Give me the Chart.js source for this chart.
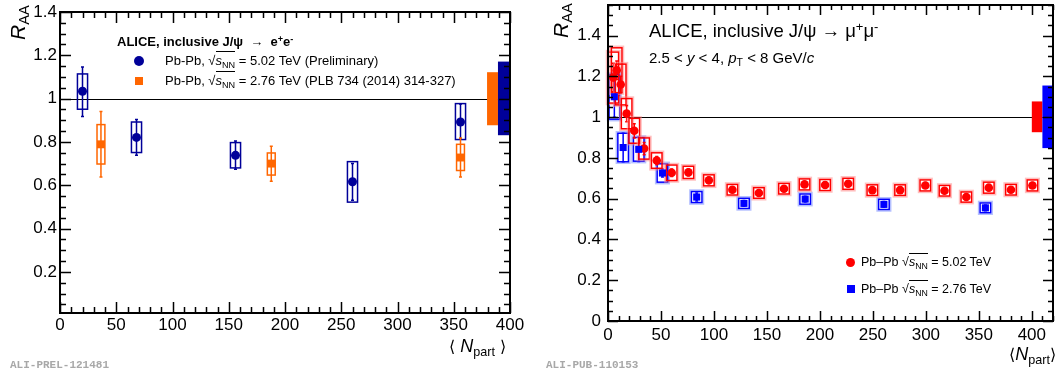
<!DOCTYPE html>
<html lang="en">
<head>
  <meta charset="UTF-8" />
  <title>J/psi R_AA vs Npart</title>
  <script src="https://cdn.jsdelivr.net/npm/chart.js"></script>
  <style>
    body { margin: 0; background: #fff; width: 1058px; height: 376px; overflow: hidden; position: relative;
           font-family: "Liberation Sans", Arial, sans-serif; }
    .panel { position: absolute; top: 0; height: 376px; }
    .t { position: absolute; white-space: nowrap; color: #000; line-height: 1; }
    .t i { font-style: italic; }
    .t sub { font-size: 70%; vertical-align: -0.3em; line-height: 0; }
    .t sup { font-size: 70%; vertical-align: 0.45em; line-height: 0; }
    .ov { border-top: 1px solid #000; padding-top: 1px; }
    .rot { transform-origin: left top; transform: rotate(-90deg); }
    .ali { font-family: "Liberation Mono", monospace; font-weight: bold; color: #a8a8a8; font-size: 11px; }
    .br { font-family: "DejaVu Sans", sans-serif; font-size: 16px; }
    .mk { position: absolute; }
  </style>
</head>
<body>
  <div class="panel" style="left:0;width:530px;"><canvas id="leftChart"></canvas></div>
  <div class="panel" style="left:530px;width:528px;"><canvas id="rightChart"></canvas></div>

  <!-- left panel texts -->
  <div class="t rot" style="left:7px;top:40px;font-size:21px;"><i>R</i><sub style="font-style:normal">AA</sub></div>
  <div class="t" style="left:449px;top:337px;font-size:18px;"><span class="br">⟨</span> <i>N</i><sub>part</sub> <span class="br">⟩</span></div>
  <div class="t ali" style="left:10px;top:360px;">ALI-PREL-121481</div>
  <div class="t" style="left:117px;top:35px;font-size:13px;font-weight:bold;">ALICE, inclusive J/ψ &nbsp;→&nbsp; e<sup>+</sup>e<sup>-</sup></div>
  <div class="mk" style="left:134px;top:56px;width:10px;height:10px;border-radius:50%;background:#000099;"></div>
  <div class="t" style="left:165px;top:54px;font-size:13px;">Pb-Pb, √<span class="ov"><i>s</i><sub>NN</sub></span> = 5.02 TeV (Preliminary)</div>
  <div class="mk" style="left:135px;top:77px;width:8px;height:8px;background:#ff6600;"></div>
  <div class="t" style="left:165px;top:74px;font-size:13px;">Pb-Pb, √<span class="ov"><i>s</i><sub>NN</sub></span> = 2.76 TeV (PLB 734 (2014) 314-327)</div>

  <!-- right panel texts -->
  <div class="t rot" style="left:550px;top:38px;font-size:21px;"><i>R</i><sub style="font-style:normal">AA</sub></div>
  <div class="t" style="left:1009px;top:345px;font-size:18px;"><span class="br">⟨</span><i>N</i><sub>part</sub><span class="br">⟩</span></div>
  <div class="t ali" style="left:546px;top:360px;">ALI-PUB-110153</div>
  <div class="t" style="left:649px;top:22px;font-size:18.5px;">ALICE, inclusive J/ψ → μ<sup>+</sup>μ<sup>-</sup></div>
  <div class="t" style="left:649px;top:50px;font-size:15px;">2.5 &lt; <i>y</i> &lt; 4, <i>p</i><sub>T</sub> &lt; 8 GeV/<i>c</i></div>
  <div class="mk" style="left:846px;top:258px;width:9px;height:9px;border-radius:50%;background:#ff0000;"></div>
  <div class="t" style="left:861px;top:256px;font-size:12.5px;">Pb–Pb √<span class="ov"><i>s</i><sub>NN</sub></span> = 5.02 TeV</div>
  <div class="mk" style="left:847px;top:285px;width:8px;height:8px;background:#0000ff;"></div>
  <div class="t" style="left:861px;top:283px;font-size:12.5px;">Pb–Pb √<span class="ov"><i>s</i><sub>NN</sub></span> = 2.76 TeV</div>

  <script>
    // ---- left panel data (e+e-, mid-rapidity) ----
    const prelimNpart  = [20, 68, 156, 260, 356];
    const prelimRaa    = [1.034, 0.821, 0.738, 0.616, 0.892];
    const prelimStatLo = [0.918, 0.738, 0.674, 0.531, 0.812];
    const prelimStatHi = [1.146, 0.904, 0.804, 0.700, 0.975];
    const prelimSysLo  = [0.951, 0.751, 0.680, 0.522, 0.811];
    const prelimSysHi  = [1.114, 0.892, 0.797, 0.709, 0.977];

    const pubNpart  = [36.4, 187.8, 356];
    const pubRaa    = [0.789, 0.700, 0.728];
    const pubStatLo = [0.638, 0.618, 0.638];
    const pubStatHi = [0.941, 0.780, 0.818];
    const pubSysLo  = [0.698, 0.647, 0.668];
    const pubSysHi  = [0.880, 0.749, 0.789];

    const leftGlobalX0 = [379.6, 389.3];
    const leftGlobalX1 = [389.3, 400];
    const leftGlobalLo = [0.877, 0.831];
    const leftGlobalHi = [1.122, 1.171];

    const leftXTicks = [0, 50, 100, 150, 200, 250, 300, 350, 400];
    const leftYTicks = [0.2, 0.4, 0.6, 0.8, 1, 1.2, 1.4];

    // ---- right panel data (mu+mu-, forward rapidity) ----
    const redNpart = [5, 8.2, 12, 17.6, 24.8, 34.1, 46, 60.1, 75.9, 95.2, 117.4, 142.4,
                      166.1, 185.5, 204.9, 226.7, 249.5, 275.7, 299.5, 317.6, 338.2, 359.4, 380.3, 400.6];
    const redRaa   = [1.194, 1.230, 1.160, 1.017, 0.933, 0.846, 0.787, 0.727, 0.729, 0.690, 0.644, 0.628,
                      0.649, 0.670, 0.667, 0.673, 0.642, 0.642, 0.665, 0.639, 0.608, 0.654, 0.644, 0.665];
    const redStat  = [0.07, 0.045, 0.04, 0.04, 0.035, 0.03, 0.02, 0.018, 0.016, 0.016, 0.014, 0.014,
                      0.014, 0.014, 0.014, 0.014, 0.014, 0.014, 0.014, 0.014, 0.014, 0.014, 0.014, 0.014];
    const redSys   = [0.125, 0.11, 0.10, 0.074, 0.061, 0.052, 0.038, 0.038, 0.030, 0.027, 0.026, 0.026,
                      0.026, 0.027, 0.027, 0.027, 0.026, 0.026, 0.027, 0.026, 0.025, 0.027, 0.026, 0.027];

    const blueNpart = [6, 14.3, 29, 51.4, 83.7, 128.3, 186.1, 260.4, 356.2];
    const blueRaa   = [1.10, 0.851, 0.842, 0.726, 0.608, 0.577, 0.598, 0.572, 0.555];
    const blueStat  = [0.10, 0.07, 0.06, 0.02, 0.02, 0.014, 0.014, 0.014, 0.014];
    const blueSys   = [0.11, 0.07, 0.058, 0.045, 0.027, 0.025, 0.025, 0.025, 0.024];

    const rightGlobalX0 = [400, 410];
    const rightGlobalX1 = [410, 420];
    const rightGlobalLo = [0.926, 0.848];
    const rightGlobalHi = [1.077, 1.155];

    const rightXTicks = [0, 50, 100, 150, 200, 250, 300, 350, 400];
    const rightYTicks = [0, 0.2, 0.4, 0.6, 0.8, 1, 1.2, 1.4];

    const FONT = { family: 'Liberation Sans', size: 17 };

    // boxes, error bars, unity line, global boxes, and ROOT style frame ticks
    const physPlugin = {
      id: 'phys',
      beforeDatasetsDraw(chart) {
        const { ctx, chartArea: a, scales: { x, y } } = chart;
        const o = chart.options.plugins.phys;
        ctx.save();
        // line at 1
        const y1 = Math.round(y.getPixelForValue(1)) + 0.5;
        ctx.strokeStyle = '#000';
        ctx.lineWidth = 1.2;
        ctx.beginPath(); ctx.moveTo(a.left, y1); ctx.lineTo(a.right, y1); ctx.stroke();
        // global uncertainty boxes
        o.globals.x0.forEach((gx, i) => {
          const px0 = x.getPixelForValue(gx), px1 = x.getPixelForValue(o.globals.x1[i]);
          const py0 = y.getPixelForValue(o.globals.hi[i]), py1 = y.getPixelForValue(o.globals.lo[i]);
          ctx.fillStyle = o.globals.colors[i];
          ctx.fillRect(px0, py0, px1 - px0, py1 - py0);
        });
        // per point boxes and stat bars
        chart.data.datasets.forEach(ds => {
          if (!ds.sysLo) return;
          ds.data.forEach((p, i) => {
            const px = x.getPixelForValue(p.x);
            const bx0 = x.getPixelForValue(p.x - ds.boxHalf), bx1 = x.getPixelForValue(p.x + ds.boxHalf);
            const by0 = y.getPixelForValue(ds.sysHi[i]), by1 = y.getPixelForValue(ds.sysLo[i]);
            if (ds.halo) {
              ctx.strokeStyle = ds.halo;
              ctx.lineWidth = 1.5;
              ctx.strokeRect(bx0 - 1.5, by0 - 1.5, bx1 - bx0 + 3, by1 - by0 + 3);
            }
            ctx.strokeStyle = ds.borderColor;
            ctx.lineWidth = 1.5;
            ctx.strokeRect(bx0, by0, bx1 - bx0, by1 - by0);
            const sy0 = y.getPixelForValue(ds.statHi[i]), sy1 = y.getPixelForValue(ds.statLo[i]);
            ctx.lineWidth = 1.5;
            ctx.beginPath();
            ctx.moveTo(px, sy0); ctx.lineTo(px, sy1);
            ctx.moveTo(px - 1.5, sy0); ctx.lineTo(px + 1.5, sy0);
            ctx.moveTo(px - 1.5, sy1); ctx.lineTo(px + 1.5, sy1);
            ctx.stroke();
          });
        });
        ctx.restore();
      },
      afterDraw(chart) {
        const { ctx, chartArea: a, scales: { x, y } } = chart;
        const t = chart.options.plugins.phys.ticks;
        ctx.save();
        ctx.strokeStyle = '#000';
        ctx.lineWidth = 1.5;
        const isMajor = (v, step) => Math.abs(v / step - Math.round(v / step)) < 1e-6;
        ctx.beginPath();
        for (let k = Math.ceil(x.min / t.xMinor - 1e-9); k * t.xMinor <= x.max + 1e-9; k++) {
          const v = k * t.xMinor, px = Math.round(x.getPixelForValue(v)) + 0.5;
          const len = isMajor(v, t.xMajor) ? t.majLen : t.minLen;
          ctx.moveTo(px, a.bottom); ctx.lineTo(px, a.bottom - len);
          ctx.moveTo(px, a.top); ctx.lineTo(px, a.top + len);
        }
        for (let k = Math.ceil(y.min / t.yMinor - 1e-9); k * t.yMinor <= y.max + 1e-9; k++) {
          const v = k * t.yMinor, py = Math.round(y.getPixelForValue(v)) + 0.5;
          const len = isMajor(v, t.yMajor) ? t.majLen : t.minLen;
          ctx.moveTo(a.left, py); ctx.lineTo(a.left + len, py);
          ctx.moveTo(a.right, py); ctx.lineTo(a.right - len, py);
        }
        ctx.stroke();
        ctx.lineWidth = 2;
        ctx.strokeRect(a.left, a.top, a.right - a.left, a.bottom - a.top);
        ctx.restore();
      }
    };

    function fmt(v) { return String(Math.round(v * 10) / 10); }

    // fixed axis sizes so the plot frame lands where the reference has it
    function noPad(ax) { ax.paddingTop = 0; ax.paddingBottom = 0; ax.paddingLeft = 0; ax.paddingRight = 0; }

    function scalesFor(xMax, yMin, yMax, xTicks, yTicks, yWidth, xHeight, yPad, xPad) {
      return {
        x: {
          type: 'linear', min: 0, max: xMax,
          afterBuildTicks: ax => { ax.ticks = xTicks.map(v => ({ value: v })); },
          afterFit: ax => { ax.height = xHeight; noPad(ax); },
          grid: { display: false, drawTicks: false }, border: { display: false },
          ticks: { autoSkip: false, maxRotation: 0, padding: xPad, color: '#000', font: FONT, callback: v => String(v) }
        },
        y: {
          type: 'linear', min: yMin, max: yMax,
          afterBuildTicks: ax => { ax.ticks = yTicks.map(v => ({ value: v })); },
          afterFit: ax => { ax.width = yWidth; noPad(ax); },
          grid: { display: false, drawTicks: false }, border: { display: false },
          ticks: { autoSkip: false, padding: yPad, color: '#000', font: FONT, callback: v => fmt(v) }
        }
      };
    }

    const toXY = (xs, ys) => xs.map((v, i) => ({ x: v, y: ys[i] }));

    new Chart(document.getElementById('leftChart'), {
      type: 'scatter',
      data: {
        datasets: [
          {
            label: 'Pb-Pb 5.02 TeV (Preliminary)',
            data: toXY(prelimNpart, prelimRaa),
            pointStyle: 'circle', pointRadius: 4.5, borderWidth: 0,
            backgroundColor: '#000099', borderColor: '#000099',
            statLo: prelimStatLo, statHi: prelimStatHi, sysLo: prelimSysLo, sysHi: prelimSysHi, boxHalf: 4.5
          },
          {
            label: 'Pb-Pb 2.76 TeV (PLB 734 (2014) 314-327)',
            data: toXY(pubNpart, pubRaa),
            pointStyle: 'rect', pointRadius: 5.6, borderWidth: 0,
            backgroundColor: '#ff6600', borderColor: '#ff6600',
            statLo: pubStatLo, statHi: pubStatHi, sysLo: pubSysLo, sysHi: pubSysHi, boxHalf: 3.5
          }
        ]
      },
      options: {
        responsive: true, maintainAspectRatio: false, animation: false,
        layout: { padding: { left: 0, top: 12, right: 20, bottom: 0 } },
        plugins: {
          legend: { display: false }, tooltip: { enabled: false },
          phys: {
            globals: { x0: leftGlobalX0, x1: leftGlobalX1, lo: leftGlobalLo, hi: leftGlobalHi, colors: ['#ff6600', '#000099'] },
            ticks: { xMajor: 50, xMinor: 10, yMajor: 0.2, yMinor: 0.05, majLen: 11, minLen: 6 }
          }
        },
        scales: scalesFor(400, 0.01, 1.4, leftXTicks, leftYTicks, 60, 63, 3, 2)
      },
      plugins: [physPlugin]
    });

    new Chart(document.getElementById('rightChart'), {
      type: 'scatter',
      data: {
        datasets: [
          {
            label: 'Pb-Pb 2.76 TeV',
            data: toXY(blueNpart, blueRaa),
            pointStyle: 'rect', pointRadius: 5, borderWidth: 0,
            backgroundColor: '#0000ff', borderColor: '#0000ff', halo: 'rgba(120,140,255,0.55)',
            statLo: blueRaa.map((v, i) => v - blueStat[i]), statHi: blueRaa.map((v, i) => v + blueStat[i]),
            sysLo: blueRaa.map((v, i) => v - blueSys[i]), sysHi: blueRaa.map((v, i) => v + blueSys[i]), boxHalf: 5
          },
          {
            label: 'Pb-Pb 5.02 TeV',
            data: toXY(redNpart, redRaa),
            pointStyle: 'circle', pointRadius: 4.3, borderWidth: 0,
            backgroundColor: '#ff0000', borderColor: '#ff0000', halo: 'rgba(255,140,140,0.55)',
            statLo: redRaa.map((v, i) => v - redStat[i]), statHi: redRaa.map((v, i) => v + redStat[i]),
            sysLo: redRaa.map((v, i) => v - redSys[i]), sysHi: redRaa.map((v, i) => v + redSys[i]), boxHalf: 5
          }
        ]
      },
      options: {
        responsive: true, maintainAspectRatio: false, animation: false,
        layout: { padding: { left: 0, top: 4, right: 1, bottom: 0 } },
        plugins: {
          legend: { display: false }, tooltip: { enabled: false },
          phys: {
            globals: { x0: rightGlobalX0, x1: rightGlobalX1, lo: rightGlobalLo, hi: rightGlobalHi, colors: ['#ff0000', '#0000ff'] },
            ticks: { xMajor: 50, xMinor: 10, yMajor: 0.2, yMinor: 0.05, majLen: 10, minLen: 5 }
          }
        },
        scales: scalesFor(420, 0, 1.55, rightXTicks, rightYTicks, 78, 55, 7, 4)
      },
      plugins: [physPlugin]
    });
  </script>
</body>
</html>
